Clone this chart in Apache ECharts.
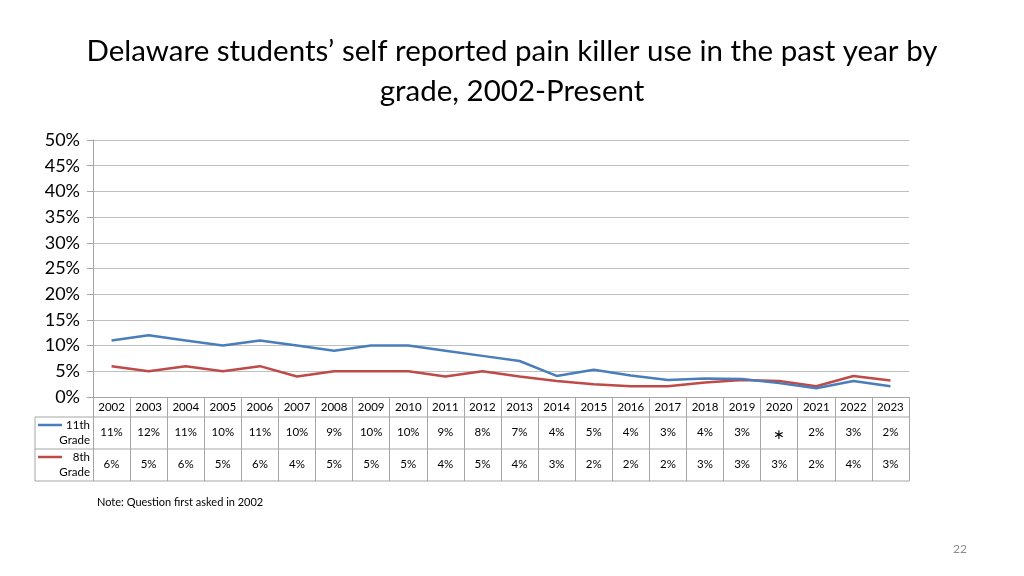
<!DOCTYPE html>
<html><head><meta charset="utf-8">
<script src="https://cdn.jsdelivr.net/npm/echarts@6/dist/echarts.min.js"></script>
<style>html,body{margin:0;padding:0;background:#fff;}#c{width:1024px;height:576px;}</style>
</head><body><div id="c"></div>
<script>
var years = ['2002','2003','2004','2005','2006','2007','2008','2009','2010','2011','2012','2013','2014','2015','2016','2017','2018','2019','2020','2021','2022','2023'];
var grade11 = [11,12,11,10,11,10,9,10,10,9,8,7,4.1,5.3,4.2,3.3,3.6,3.5,2.7,1.7,3.1,2.1];
var grade8  = [6,5,6,5,6,4,5,5,5,4,5,4,3.1,2.5,2.1,2.1,2.8,3.3,3.1,2.1,4.1,3.2];
var table11 = ['11%','12%','11%','10%','11%','10%','9%','10%','10%','9%','8%','7%','4%','5%','4%','3%','4%','3%','*','2%','3%','2%'];
var table8  = ['6%','5%','6%','5%','6%','4%','5%','5%','5%','4%','5%','4%','3%','2%','2%','2%','3%','3%','3%','2%','4%','3%'];
var yTicks = [0,5,10,15,20,25,30,35,40,45,50];

var FONT = 'Lato, "Open Sans", sans-serif';
var BLUE = '#4a7ebb', RED = '#be4b48';
var G = {left:93, right:115, top:140, bottom:179};
var W = 1024, H = 576;
var gx0 = G.left, gx1 = W - G.right, gy1 = H - G.bottom;
var tLeft = 35, row0 = gy1 + 20, row1 = row0 + 32, row2 = row1 + 32;
var borderColor = '#a6a6a6';

var chart = echarts.init(document.getElementById('c'));
function hline(y, x0, x1){ return {type:'line', shape:{x1:x0,y1:y,x2:x1,y2:y}, style:{stroke:borderColor,lineWidth:1}, silent:true}; }
var graphics = [
  hline(row0, tLeft, gx1), hline(row1, tLeft, gx1), hline(row2, tLeft, gx1),
  {type:'line', shape:{x1:tLeft,y1:row0,x2:tLeft,y2:row2}, style:{stroke:borderColor,lineWidth:1}},
  {type:'line', shape:{x1:38,y1:row0+8,x2:62,y2:row0+8}, style:{stroke:BLUE,lineWidth:2.5}},
  {type:'line', shape:{x1:38,y1:row1+8,x2:62,y2:row1+8}, style:{stroke:RED,lineWidth:2.5}},
  {type:'text', style:{text:'11th\nGrade', x:gx0-3, y:row0+1, align:'right', verticalAlign:'top', font:'11.5px '+FONT, fill:'#000', lineHeight:15}},
  {type:'text', style:{text:'8th\nGrade', x:gx0-3, y:row1+1, align:'right', verticalAlign:'top', font:'11.5px '+FONT, fill:'#000', lineHeight:15}},
  {type:'text', style:{text:'Note: Question first asked in 2002', x:97, y:502, align:'left', verticalAlign:'middle', font:'11px '+FONT, fill:'#000'}},
  {type:'text', style:{text:'22', x:960, y:549, align:'center', verticalAlign:'middle', font:'12px '+FONT, fill:'#8c8c8c'}}
];

var catAxisBase = {type:'category', data:years, gridIndex:0, position:'bottom', boundaryGap:true};
chart.setOption({
  animation:false,
  backgroundColor:'#fff',
  title:{text:'Delaware students\u2019 self reported pain killer use in the past year by\ngrade, 2002-Present', left:'center', top:26,
    textStyle:{fontFamily:FONT, fontSize:29.5, fontWeight:'normal', color:'#000', lineHeight:40}},
  grid:{left:G.left, right:G.right, top:G.top, bottom:G.bottom, containLabel:false},
  yAxis:{type:'value', min:0, max:50, interval:5,
    axisLine:{show:true, lineStyle:{color:'#a6a6a6'}},
    axisTick:{show:true, length:6, lineStyle:{color:'#a6a6a6'}},
    splitLine:{show:true, lineStyle:{color:'#bfbfbf', width:1}},
    axisLabel:{formatter:function(v){return v+'%';}, fontFamily:FONT, fontSize:18, color:'#000', margin:13}},
  xAxis:[
    Object.assign({}, catAxisBase, {
      axisLine:{show:true, lineStyle:{color:'#a6a6a6'}},
      axisTick:{show:true, length:row2-gy1, alignWithLabel:false, lineStyle:{color:borderColor}},
      axisLabel:{interval:0, fontFamily:FONT, fontSize:11.5, color:'#000', margin:4},
      splitLine:{show:false}}),
    Object.assign({}, catAxisBase, {
      axisLine:{show:false}, axisTick:{show:false}, splitLine:{show:false},
      axisLabel:{interval:0, fontFamily:FONT, fontSize:11.5, color:'#000', margin:29,
        formatter:function(v,i){return table11[i] === '*' ? '{s|\u2217}' : table11[i];},
        rich:{s:{fontSize:14, fontFamily:'DejaVu Sans', color:'#000', padding:[2,0,0,0]}}}}),
    Object.assign({}, catAxisBase, {
      axisLine:{show:false}, axisTick:{show:false}, splitLine:{show:false},
      axisLabel:{interval:0, fontFamily:FONT, fontSize:11.5, color:'#000', margin:61,
        formatter:function(v,i){return table8[i];}}})
  ],
  series:[
    {name:'11th Grade', type:'line', xAxisIndex:0, data:grade11, showSymbol:false, symbol:'none',
      lineStyle:{color:BLUE, width:2.5}, itemStyle:{color:BLUE}, z:3},
    {name:'8th Grade', type:'line', xAxisIndex:0, data:grade8, showSymbol:false, symbol:'none',
      lineStyle:{color:RED, width:2.5}, itemStyle:{color:RED}, z:2}
  ],
  graphic:graphics
});
</script></body></html>
